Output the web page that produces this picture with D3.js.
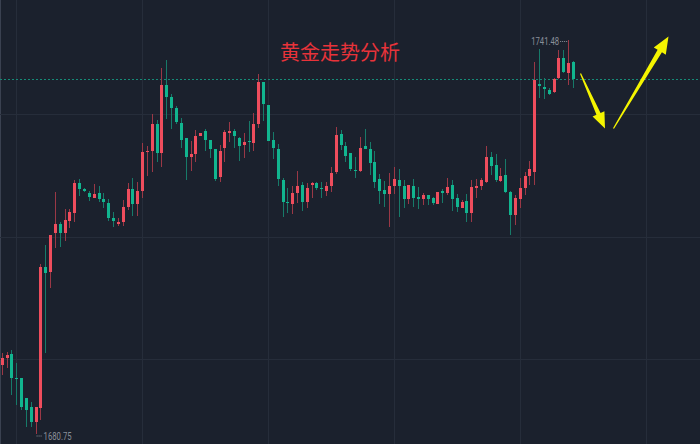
<!DOCTYPE html>
<html><head><meta charset="utf-8">
<script src="https://cdn.jsdelivr.net/npm/d3@7/dist/d3.min.js"></script>
<style>html,body{margin:0;padding:0;background:#1b212d;overflow:hidden}</style>
</head><body><svg id="c" width="700" height="444"></svg>
<script>
const openP = [1691.32,1692.40,1693.02,1689.31,1689.31,1686.21,1684.84,1682.52,1684.68,1706.45,1705.67,1711.69,1713.08,1711.69,1713.55,1714.78,1719.41,1718.48,1717.87,1717.09,1717.87,1716.94,1716.32,1714.01,1713.08,1713.39,1715.71,1718.48,1716.17,1718.17,1724.19,1724.35,1728.52,1724.04,1734.53,1732.68,1730.98,1728.67,1726.35,1723.42,1723.89,1726.66,1727.44,1726.05,1724.66,1720.33,1724.81,1727.13,1727.44,1726.35,1725.27,1725.89,1725.58,1728.52,1735.00,1731.45,1726.05,1724.66,1719.87,1716.48,1716.17,1717.87,1719.10,1716.48,1719.10,1719.41,1718.64,1718.17,1718.95,1721.11,1726.97,1725.12,1724.04,1721.42,1721.26,1725.12,1724.66,1722.65,1720.03,1718.33,1717.71,1718.95,1719.87,1718.95,1716.94,1718.95,1717.25,1716.94,1717.56,1717.09,1716.17,1718.17,1717.87,1719.10,1717.09,1715.55,1716.63,1714.78,1718.64,1718.95,1719.56,1723.42,1722.19,1719.72,1720.64,1718.02,1714.47,1716.94,1718.64,1720.49,1721.11,1734.69,1734.23,1733.76,1733.45,1735.62,1738.70,1736.39,1738.08];
const highP = [1693.17,1693.33,1693.63,1691.63,1689.31,1686.21,1685.61,1684.84,1706.91,1709.84,1711.38,1718.02,1713.39,1715.40,1715.40,1719.87,1720.03,1718.64,1718.17,1719.26,1718.95,1717.87,1716.94,1714.93,1714.01,1716.79,1719.41,1720.18,1719.56,1725.58,1725.12,1730.06,1729.13,1737.16,1738.39,1733.15,1731.29,1729.44,1726.35,1725.89,1727.59,1727.13,1727.74,1726.05,1724.66,1725.27,1727.59,1728.82,1727.74,1726.51,1727.13,1728.98,1730.21,1736.23,1735.00,1731.45,1727.28,1725.43,1720.18,1718.64,1718.95,1721.26,1719.56,1719.41,1719.56,1719.56,1719.56,1719.56,1721.88,1728.05,1727.59,1725.74,1724.04,1723.42,1726.51,1727.74,1725.74,1724.35,1720.80,1719.72,1720.95,1721.88,1721.57,1719.87,1719.10,1720.03,1718.79,1717.87,1717.56,1717.25,1718.02,1718.48,1720.18,1719.87,1717.71,1716.79,1717.71,1719.87,1720.03,1720.18,1725.12,1724.19,1723.89,1721.72,1723.11,1718.17,1717.56,1720.18,1721.11,1722.81,1738.08,1740.09,1735.62,1734.07,1735.62,1739.94,1739.94,1741.48,1738.24];
const lowP = [1689.78,1690.86,1686.69,1685.15,1684.37,1681.75,1681.75,1680.75,1682.83,1693.17,1703.20,1709.38,1709.53,1710.46,1712.46,1713.39,1717.40,1718.02,1716.63,1717.09,1716.48,1715.55,1713.55,1712.62,1712.77,1712.77,1715.24,1714.32,1714.32,1717.09,1720.49,1721.11,1722.65,1721.88,1729.29,1727.74,1728.52,1724.81,1719.87,1721.26,1722.65,1726.66,1724.35,1723.27,1719.72,1719.56,1722.65,1725.74,1724.81,1722.81,1723.27,1724.19,1724.35,1727.90,1728.98,1725.89,1723.11,1718.95,1714.16,1714.78,1714.63,1716.32,1715.09,1715.55,1717.09,1718.33,1717.09,1717.40,1718.02,1720.80,1724.50,1722.65,1721.26,1720.18,1721.11,1724.66,1720.64,1718.64,1716.17,1715.71,1712.62,1717.71,1714.16,1715.55,1716.17,1715.71,1715.40,1716.01,1716.01,1716.01,1716.17,1716.32,1717.56,1715.09,1714.93,1715.55,1713.39,1713.39,1717.09,1718.33,1719.41,1720.64,1719.56,1719.56,1717.87,1711.38,1712.93,1715.55,1717.56,1719.10,1719.10,1732.53,1732.37,1732.99,1733.30,1735.46,1736.39,1734.53,1734.07];
const closeP = [1692.40,1692.86,1689.31,1689.16,1684.84,1684.37,1682.52,1684.84,1706.45,1705.52,1711.38,1713.08,1711.69,1713.70,1714.93,1719.41,1718.48,1718.17,1717.25,1717.71,1716.94,1716.48,1714.01,1713.55,1713.39,1715.71,1718.48,1716.17,1718.17,1724.19,1724.35,1728.52,1724.04,1734.53,1732.68,1730.98,1728.82,1726.05,1723.42,1723.89,1726.66,1727.13,1726.05,1724.66,1720.03,1724.35,1727.28,1727.44,1726.66,1725.12,1725.74,1725.74,1728.52,1735.00,1731.60,1725.89,1724.81,1720.03,1716.48,1716.32,1717.87,1718.95,1716.48,1718.64,1719.41,1718.64,1718.48,1718.95,1720.95,1726.82,1725.27,1723.58,1721.57,1721.26,1724.81,1724.66,1722.50,1719.56,1718.17,1717.71,1718.95,1720.03,1718.95,1716.94,1719.10,1717.09,1716.94,1717.56,1716.94,1716.32,1718.02,1717.87,1718.79,1716.94,1715.71,1716.48,1714.78,1718.79,1718.95,1719.87,1723.42,1722.03,1719.87,1720.49,1718.02,1714.47,1717.09,1718.64,1720.49,1721.57,1735.31,1734.38,1733.92,1733.15,1735.46,1738.70,1736.54,1737.93,1735.46];
const gridIndex = [3, 29, 55, 81, 107, 133];
const gridPrice = [1730.0, 1711.1, 1692.2];
const titleText = "黄金走势分析";
const highLabel = "1741.48";
const lowLabel = "1680.75";

const svg = d3.select("#c");
const W = 700, H = 444;
const n = openP.length;
const x = d3.scaleLinear().domain([0, n - 1]).range([1.7, 573]);
const y = d3.scaleLinear().domain([1680.75, 1741.48]).range([433.5, 40]);

svg.append("rect").attr("width", W).attr("height", H).attr("fill", "#1b212d");
svg.append("line").attr("x1",0.5).attr("x2",0.5).attr("y1",0).attr("y2",H).attr("stroke","#3a4150");

const grid = svg.append("g").attr("shape-rendering","crispEdges");
grid.selectAll(".gx").data(gridIndex).enter().append("line")
  .attr("x1", d => Math.round(x(d)) + 0.5).attr("x2", d => Math.round(x(d)) + 0.5)
  .attr("y1", 0).attr("y2", H).attr("stroke", "#262d3a");
grid.selectAll(".gy").data(gridPrice).enter().append("line")
  .attr("y1", d => Math.round(y(d)) + 0.5).attr("y2", d => Math.round(y(d)) + 0.5)
  .attr("x1", 0).attr("x2", W).attr("stroke", "#262d3a");

// last price dashed line
const lastClose = closeP[n - 1];
svg.append("line").attr("x1", 0).attr("x2", W)
  .attr("y1", Math.round(y(lastClose)) + 0.5).attr("y2", Math.round(y(lastClose)) + 0.5)
  .attr("stroke", "#168a77").attr("stroke-dasharray", "2,2").attr("shape-rendering","crispEdges");

const data = openP.map((o, i) => ({i, o, h: highP[i], l: lowP[i], c: closeP[i]}));
const up = "#ef4d5d", down = "#11b58f";
const upWick = "#9a3846", downWick = "#177a69";
const cg = svg.append("g").attr("shape-rendering", "crispEdges");
cg.selectAll(".w").data(data).enter().append("rect")
  .attr("x", d => Math.round(x(d.i)))
  .attr("width", 1)
  .attr("y", d => Math.round(y(d.h)))
  .attr("height", d => Math.max(1, Math.round(y(d.l)) - Math.round(y(d.h))))
  .attr("fill", d => d.c >= d.o ? upWick : downWick);
cg.selectAll(".b").data(data).enter().append("rect")
  .attr("x", d => Math.round(x(d.i)) - 1)
  .attr("width", 3)
  .attr("y", d => Math.round(y(Math.max(d.o, d.c))))
  .attr("height", d => Math.max(1, Math.round(y(Math.min(d.o, d.c))) - Math.round(y(Math.max(d.o, d.c)))))
  .attr("fill", d => d.c >= d.o ? up : down);

// high / low labels
const hiIdx = highP.indexOf(d3.max(highP));
const loIdx = lowP.indexOf(d3.min(lowP));
const lblColor = "#8a8f99";
svg.append("line").attr("x1", x(hiIdx) - 8).attr("x2", x(hiIdx) - 1)
  .attr("y1", y(highP[hiIdx]) + 1.5).attr("y2", y(highP[hiIdx]) + 1.5)
  .attr("stroke", lblColor).attr("stroke-dasharray", "1,1");
svg.append("text").attr("x", x(hiIdx) - 9).attr("y", y(highP[hiIdx]) + 4.5)
  .attr("text-anchor", "end").attr("fill", lblColor)
  .attr("font-family", "Roboto, 'DejaVu Sans', sans-serif").attr("font-size", 10)
  .attr("textLength", 28).attr("lengthAdjust", "spacingAndGlyphs").text(highLabel);
svg.append("line").attr("x1", x(loIdx) + 1).attr("x2", x(loIdx) + 7)
  .attr("y1", y(lowP[loIdx]) + 2.5).attr("y2", y(lowP[loIdx]) + 2.5)
  .attr("stroke", lblColor).attr("stroke-dasharray", "1,1");
svg.append("text").attr("x", x(loIdx) + 8).attr("y", y(lowP[loIdx]) + 6)
  .attr("text-anchor", "start").attr("fill", lblColor)
  .attr("font-family", "Roboto, 'DejaVu Sans', sans-serif").attr("font-size", 10)
  .attr("textLength", 28).attr("lengthAdjust", "spacingAndGlyphs").text(lowLabel);

// title
svg.append("text").attr("x", 340).attr("y", 60).attr("text-anchor", "middle")
  .attr("fill", "#e8333a").attr("font-family", "'Noto Sans CJK SC', sans-serif")
  .attr("font-size", 20).text(titleText);

// yellow arrows (annotation)
function arrow(x1, y1, x2, y2, w0, w1, hl, hw) {
  const dx = x2 - x1, dy = y2 - y1, L = Math.hypot(dx, dy);
  const ux = dx / L, uy = dy / L, px = -uy, py = ux;
  const bx = x2 - ux * hl, by = y2 - uy * hl;
  const pts = [
    [x1 + px * w0 / 2, y1 + py * w0 / 2],
    [bx + px * w1 / 2, by + py * w1 / 2],
    [bx + px * hw / 2, by + py * hw / 2],
    [x2, y2],
    [bx - px * hw / 2, by - py * hw / 2],
    [bx - px * w1 / 2, by - py * w1 / 2],
    [x1 - px * w0 / 2, y1 - py * w0 / 2]
  ];
  svg.append("path").attr("d", d3.line()(pts) + "Z").attr("fill", "#f4f400");
}
arrow(580.5, 73.5, 605, 128.5, 1.2, 4.5, 16, 13);
arrow(613.5, 128.5, 668.5, 36.5, 1.2, 5, 17, 14);
</script></body></html>
